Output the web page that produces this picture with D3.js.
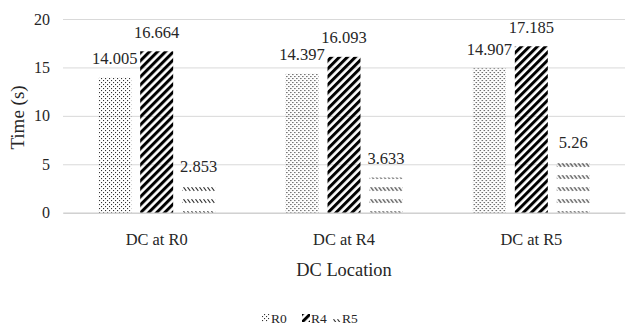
<!DOCTYPE html>
<html>
<head>
<meta charset="utf-8">
<script src="https://cdn.jsdelivr.net/npm/d3@7"></script>
<style>
  html, body { margin: 0; padding: 0; background: #fff; }
  svg { display: block; }
</style>
</head>
<body>
<svg id="chart" width="626" height="325"></svg>
<script>
const categories = ["DC at R0", "DC at R4", "DC at R5"];
const seriesNames = ["R0", "R4", "R5"];
const r0Values = [14.005, 14.397, 14.907];
const r4Values = [16.664, 16.093, 17.185];
const r5Values = [2.853, 3.633, 5.26];
const valueLabels = [["14.005", "14.397", "14.907"], ["16.664", "16.093", "17.185"], ["2.853", "3.633", "5.26"]];
const yTicks = [0, 5, 10, 15, 20];
const yTitle = "Time (s)";
const xTitle = "DC Location";

const FONT = "'Liberation Serif', 'Times New Roman', Times, serif";
const seriesValues = [r0Values, r4Values, r5Values];
const patternIds = ["pat-r0", "pat-r4", "pat-r5"];

const svg = d3.select("#chart");
const margin = { left: 63, right: 1, top: 19, bottom: 112.3 };
const W = 626, H = 325;
const plotBottom = H - margin.bottom;

// Patterns
const defs = svg.append("defs");
const p0 = defs.append("pattern").attr("id", "pat-r0").attr("patternUnits", "userSpaceOnUse")
  .attr("width", 4).attr("height", 4);
p0.append("rect").attr("x", 0).attr("y", 0).attr("width", 1.1).attr("height", 1.1).attr("fill", "#333");
p0.append("rect").attr("x", 2).attr("y", 2).attr("width", 1.1).attr("height", 1.1).attr("fill", "#333");

const p1 = defs.append("pattern").attr("id", "pat-r4").attr("patternUnits", "userSpaceOnUse")
  .attr("width", 5.66).attr("height", 10).attr("patternTransform", "rotate(45)");
p1.append("rect").attr("x", 0).attr("y", 0).attr("width", 3).attr("height", 10).attr("fill", "#000");

const p2 = defs.append("pattern").attr("id", "pat-r5").attr("patternUnits", "userSpaceOnUse")
  .attr("x", 0).attr("y", 211).attr("width", 4).attr("height", 12);
p2.append("line").attr("x1", 0.5).attr("y1", 0.2).attr("x2", 3.3).attr("y2", 3.8)
  .attr("stroke", "#333").attr("stroke-width", 1.1);

// Scales
const x0 = d3.scaleBand().domain(categories).range([margin.left, W - margin.right]).padding(0);
const x1 = d3.scaleBand().domain(seriesNames).range([0, x0.bandwidth()])
  .paddingInner(0.214).paddingOuter(0.84);
const y = d3.scaleLinear().domain([0, 20]).range([plotBottom, margin.top]);

// Gridlines + y tick labels
const yAxis = d3.axisLeft(y).tickValues(yTicks).tickSize(-(W - margin.right - margin.left)).tickPadding(13);
const gy = svg.append("g").attr("transform", `translate(${margin.left},0)`).call(yAxis)
  .attr("font-family", null).attr("font-size", null);
gy.select(".domain").remove();
gy.selectAll(".tick line").attr("stroke", "#d9d9d9").attr("stroke-width", 1);
gy.selectAll(".tick text").style("font-family", FONT).style("font-size", "16px").attr("fill", "#262626");

// Bars
const groups = svg.append("g").selectAll("g").data(categories).join("g")
  .attr("transform", d => `translate(${x0(d)},0)`);
seriesNames.forEach((s, si) => {
  groups.append("rect")
    .attr("x", x1(s))
    .attr("width", x1.bandwidth())
    .attr("y", (d, ci) => y(seriesValues[si][ci]))
    .attr("height", (d, ci) => y(0) - y(seriesValues[si][ci]))
    .attr("fill", `url(#${patternIds[si]})`);
  groups.append("text")
    .attr("x", x1(s) + x1.bandwidth() / 2)
    .attr("y", (d, ci) => y(seriesValues[si][ci]) - 13.5)
    .attr("text-anchor", "middle")
    .style("font-family", FONT)
    .style("font-size", "16.5px")
    .attr("fill", "#262626")
    .text((d, ci) => valueLabels[si][ci]);
});

// x axis
const xAxis = d3.axisBottom(x0).tickSize(0).tickPadding(21);
const gx = svg.append("g").attr("transform", `translate(0,${plotBottom})`).call(xAxis)
  .attr("font-family", null).attr("font-size", null);
gx.select(".domain").attr("stroke", "#c8c8c8").attr("stroke-width", 1);
gx.selectAll(".tick text").style("font-family", FONT).style("font-size", "16.4px").attr("fill", "#262626");

// Axis titles
svg.append("text").attr("x", (margin.left + W - margin.right) / 2).attr("y", 276)
  .attr("text-anchor", "middle").style("font-family", FONT).style("font-size", "18.4px")
  .attr("fill", "#262626").text(xTitle);
svg.append("text").attr("transform", "translate(24,117.5) rotate(-90)")
  .attr("text-anchor", "middle").style("font-family", FONT).style("font-size", "19px")
  .attr("fill", "#262626").text(yTitle);

// Legend
const legendX = [262, 302, 333];
const lg = svg.append("g").selectAll("g").data(seriesNames).join("g")
  .attr("transform", (d, i) => `translate(${legendX[i]},0)`);
lg.append("rect").attr("x", 0).attr("y", 314).attr("width", 8).attr("height", 8)
  .attr("fill", (d, i) => `url(#${patternIds[i]})`);
lg.append("text").attr("x", 9).attr("y", 323).style("font-family", FONT).style("font-size", "13.5px")
  .attr("fill", "#262626").text(d => d);
</script>
</body>
</html>
